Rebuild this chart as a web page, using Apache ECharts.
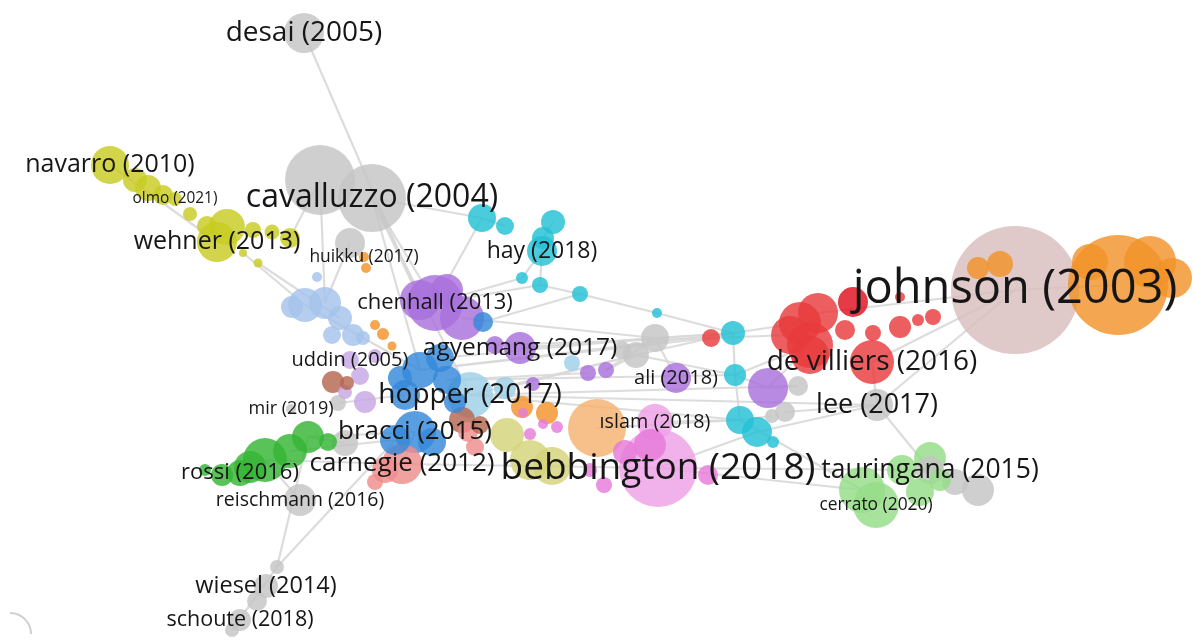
<!DOCTYPE html>
<html>
<head>
<meta charset="utf-8">
<script src="https://cdn.jsdelivr.net/npm/echarts@6/dist/echarts.min.js"></script>
<style>
html,body{margin:0;padding:0;background:#fff;}
#chart{width:1193px;height:643px;}
</style>
</head>
<body>
<div id="chart"></div>
<script>
// Map coordinates (x, y) and weights of each item, per cluster
const grayNodes = [['desai',304,33,40],['cavL',320,180,70],['cav',372,198,68],['g4',350,243,30],['mir',291,409,10],['g6',338,403,16],['g7',345,443,26],['reis',300,500,32],['g9',277,567,14],['wiesel',266,586,24],['g11',257,601,20],['schoute',240,620,22],['g13',232,630,14],['g14',655,338,28],['g15',636,355,26],['g16',622,350,18],['lee',877,405,32],['g18',798,386,20],['g19',785,412,20],['g20',772,416,14],['taur',930,470,28],['g22',955,482,26],['g23',978,490,32]];
const roseNodes = [['johnson',1015,290,128]];
const orangeNodes = [['o1',1118,285,100],['o2',1150,262,52],['o3',1172,278,40],['o6',1090,262,36],['o4',1000,264,26],['o5',978,268,22],['o7',547,413,22],['o8',522,407,22],['huikku',364,257,10],['o10',366,268,10],['o11',375,325,10],['o12',383,334,12],['o13',392,346,9]];
const peachNodes = [['pe1',597,428,58]];
const yellowNodes = [['navarro',110,165,38],['y2',135,180,24],['y3',148,188,26],['y4',163,195,20],['olmo',175,199,14],['y6',190,214,14],['y7',207,226,20],['y8',227,227,36],['wehner',217,242,40],['y10',253,230,16],['y11',272,232,15],['y12',290,238,20],['y13',243,253,8],['y14',258,263,9]];
const oliveNodes = [['ol1',507,435,34],['ol2',530,460,40],['ol3',552,466,38]];
const cyanNodes = [['c1',482,218,28],['c2',505,226,18],['c3',553,222,24],['c4',543,238,22],['hay',542,251,30],['c6',522,278,12],['c7',540,285,16],['c8',580,294,16],['c9',657,313,10],['c10',733,333,24],['c11',735,375,22],['c12',740,420,28],['c13',757,432,30],['c14',773,442,12]];
const redNodes = [['r2',800,323,42],['r3',818,313,40],['r4',810,345,46],['r5',790,335,38],['r13',810,355,38],['devill',872,362,44],['r7',873,333,16],['r8',900,327,22],['r9',918,320,12],['r10',933,317,16],['r11',900,297,10],['r14',845,330,20],['r1',711,338,18]];
const darkRedNodes = [['r6',853,302,30]];
const purpleNodes = [['chenhall',435,303,56],['p1',420,300,40],['p3',462,318,44],['p4',447,290,32],['agyemang',520,348,32],['p6',495,345,18],['p7',588,373,16],['p8',606,370,16],['ali',676,378,30],['p10',768,388,40],['p11',533,384,14]];
const blueNodes = [['b1',420,370,36],['b2',440,358,28],['b3',405,395,30],['b4',447,380,28],['bracci',415,432,42],['b6',395,440,30],['b7',432,442,28],['b8',483,322,20],['b9',455,402,22],['b10',400,378,24]];
const lightBlueNodes = [['lb1',305,305,34],['lb2',325,303,32],['lb3',340,318,24],['lb4',353,335,22],['lb5',332,335,18],['lb6',317,277,10],['lb7',363,338,14],['lb8',292,307,22]];
const skyNodes = [['hopper',470,395,46],['sk2',505,388,22],['sk3',572,363,16]];
const lightPurpleNodes = [['uddin',350,360,18],['lp2',365,402,22],['lp3',360,376,18],['lp4',345,392,14],['lp5',375,356,14]];
const brownNodes = [['br1',333,382,22],['br2',347,383,14],['br3',462,420,26],['br4',480,425,18]];
const greenNodes = [['gr3',265,460,44],['gr2',290,451,34],['gr1',308,437,32],['gr4',250,467,32],['rossi',240,473,26],['gr6',222,475,22],['gr7',205,470,12],['gr8',328,442,18]];
const salmonNodes = [['carnegie',402,464,40],['s2',385,470,26],['s3',375,482,16],['s4',468,432,20],['s5',475,447,18]];
const lightPinkNodes = [['bebb',658,468,78],['islam',655,422,36]];
const pinkNodes = [['pk2',650,445,32],['pk3',708,475,20],['pk4',604,485,16],['pk5',590,470,14],['pk7',530,434,12],['pk8',543,424,10],['pk9',523,413,10],['pk10',625,452,24],['pk11',557,427,12]];
const lightGreenNodes = [['lg1',862,490,46],['cerrato',876,505,46],['lg3',902,470,30],['lg4',930,458,32],['lg5',920,492,28],['lg6',940,480,22]];

// labels: [node id, text, label weight]
const labels = [['johnson','johnson (2003)',47],['bebb','bebbington (2018)',37],['cav','cavalluzzo (2004)',32],['hopper','hopper (2017)',28],['chenhall','chenhall (2013)',22],['devill','de villiers (2016)',28],['desai','desai (2005)',28],['lee','lee (2017)',27],['taur','tauringana (2015)',26.5],['agyemang','agyemang (2017)',24.5],['navarro','navarro (2010)',25],['wehner','wehner (2013)',25],['hay','hay (2018)',23],['bracci','bracci (2015)',26],['carnegie','carnegie (2012)',26],['rossi','rossi (2016)',22],['wiesel','wiesel (2014)',23.5],['schoute','schoute (2018)',21.5],['reis','reischmann (2016)',19.5],['uddin','uddin (2005)',20],['ali','ali (2018)',20],['islam','ıslam (2018)',19.8],['cerrato','cerrato (2020)',17.4],['mir','mir (2019)',18],['huikku','huikku (2017)',17.4],['olmo','olmo (2021)',15.4]];

// links between items
const links = [['desai','p1'],['cav','c1'],['cav','p1'],['cav','b1'],['cav','hopper'],['cavL','y12'],['cavL','lb2'],['cav','chenhall'],['navarro','wehner'],['y14','lb3'],['y13','lb1'],['hay','c7'],['c7','c8'],['c8','c9'],['c9','c10'],['c10','r1'],['r1','r5'],['c10','c11'],['c11','c12'],['g14','c10'],['agyemang','g14'],['b1','c10'],['b2','g14'],['hopper','g15'],['hopper','g18'],['ali','g14'],['devill','lee'],['johnson','lee'],['johnson','devill'],['johnson','r3'],['johnson','o1'],['lee','taur'],['bebb','lg1'],['bebb','taur'],['c13','lee'],['g19','lee'],['reis','gr3'],['g9','gr1'],['g9','b6'],['g13','g9'],['bracci','carnegie'],['carnegie','bebb'],['g4','lb2'],['chenhall','c6'],['chenhall','c7'],['b8','c8'],['pe1','c12'],['islam','c12'],['p10','r4'],['c11','p10'],['gr1','bracci'],['gr2','b6'],['gr3','carnegie'],['g6','b3'],['lb1','b1'],['c1','c2'],['c3','c4'],['c4','hay'],['hay','c6'],['c1','chenhall'],['g15','c11'],['g14','p8'],['b4','p7'],['p8','g15'],['r4','c11'],['c12','lg1'],['c10','r2'],['p10','g18'],['g20','c12'],['hopper','c12'],['bebb','c13'],['g15','r1'],['b1','r1'],['g7','gr1'],['p3','g14'],['agyemang','c10'],['sk2','g15'],['p6','r1'],['hopper','lee'],['b4','c11']];

const clusters = [
  [grayNodes,'#c4c4c4'],[roseNodes,'#d9bdbd'],[orangeNodes,'#f2932a'],[peachNodes,'#f5b272'],
  [yellowNodes,'#c8cc22'],[oliveNodes,'#d4d37a'],[cyanNodes,'#22c1d6'],[redNodes,'#e83a3c'],
  [darkRedNodes,'#e0101e'],[purpleNodes,'#a870dc'],[blueNodes,'#3589d9'],[lightBlueNodes,'#a5c3ec'],
  [skyNodes,'#9dcfe8'],[lightPurpleNodes,'#c6a6e4'],[brownNodes,'#b5664f'],[greenNodes,'#34b634'],
  [salmonNodes,'#ef8c8c'],[lightPinkNodes,'#eea0e6'],[pinkNodes,'#e77ad9'],[lightGreenNodes,'#95dd88']
];

const pos = {};
let nodes = [];
clusters.forEach(([arr,color]) => {
  arr.forEach(([id,x,y,w]) => {
    pos[id] = [x,y];
    nodes.push({name:id, value:[x,y], symbolSize:w, itemStyle:{color:color, opacity:0.82}});
  });
});
nodes.sort((a,b)=>b.symbolSize-a.symbolSize);

const labelData = labels.map(([id,text,w]) => ({
  name:text, value:pos[id],
  label:{show:true, formatter:text, fontSize:w}
}));

const chart = echarts.init(document.getElementById('chart'));
chart.setOption({
  animation:false,
  backgroundColor:'#ffffff',
  grid:{left:0,right:0,top:0,bottom:0},
  xAxis:{type:'value',min:0,max:1193,show:false},
  yAxis:{type:'value',min:0,max:643,inverse:true,show:false},
  graphic:[{type:'arc',shape:{cx:10,cy:634,r:21,startAngle:-Math.PI/2,endAngle:0},style:{stroke:'#cfcfcf',lineWidth:2,fill:'none'}}],
  series:[
    {
      type:'graph', coordinateSystem:'cartesian2d', symbol:'circle',
      data:nodes,
      links:links.map(([s,t])=>({source:s,target:t})),
      lineStyle:{color:'#d8d8d8',width:2.2,opacity:0.9,curveness:0},
      label:{show:false},
      emphasis:{disabled:true},
      z:2
    },
    {
      type:'scatter', symbolSize:1, itemStyle:{color:'rgba(0,0,0,0)',opacity:1},
      data:labelData,
      label:{show:true,position:'inside',color:'#161616',opacity:1,fontFamily:'Open Sans'},
      emphasis:{disabled:true},
      z:10
    }
  ]
});
</script>
</body>
</html>
